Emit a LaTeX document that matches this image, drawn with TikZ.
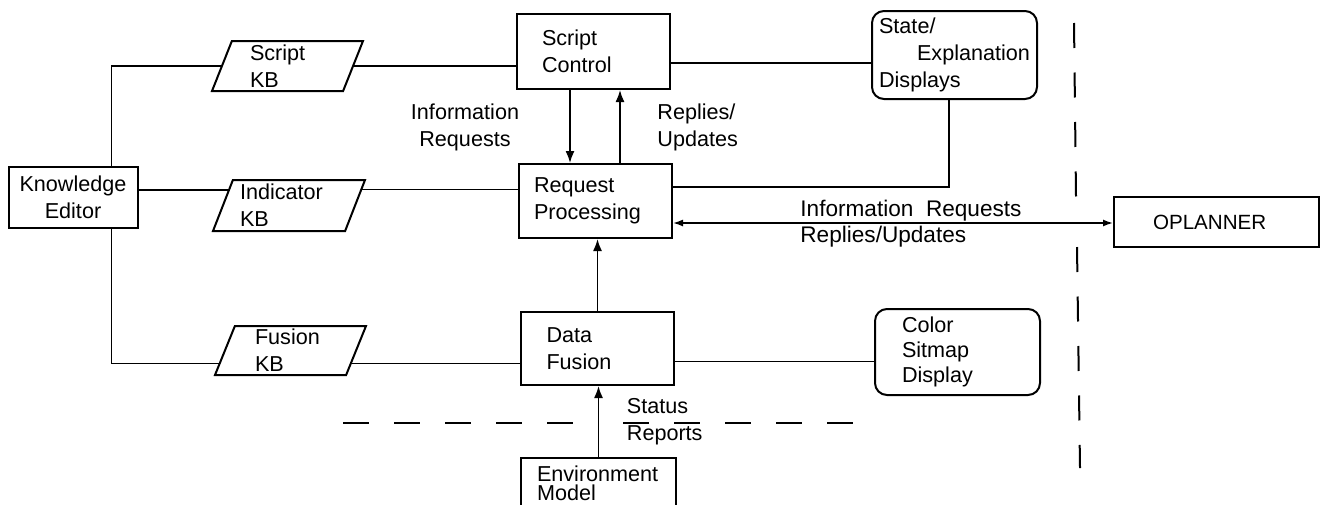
\documentclass[tikz,border=0pt]{standalone}
\usepackage{fontspec}
\setmainfont{Liberation Sans}
\usetikzlibrary{shapes.geometric,arrows.meta,calc}
\newcommand{\bfnt}{\fontsize{10.8}{13.5}\selectfont}
\newcommand{\sfnt}{\fontsize{11.3}{13}\selectfont}
\begin{document}
\begin{tikzpicture}[x=0.5pt,y=-0.5pt,
 blk/.style={draw, line width=1pt, inner sep=0pt, align=left, font=\bfnt},
 rblk/.style={blk, rounded corners=6pt},
 kbshape/.style={draw, line width=1pt, trapezium, trapezium left angle=65, trapezium right angle=115, trapezium stretches body, inner sep=0pt, align=left, font=\bfnt},
 lbl/.style={inner sep=0pt, font=\bfnt},
 conn/.style={line width=0.8pt},
 arr/.style={conn, -{Latex[length=6pt,width=4.5pt]}},
 darr/.style={conn, {Latex[length=5pt,width=3.5pt]}-{Latex[length=5pt,width=3.5pt]}},
 sep/.style={line width=1pt, dash pattern=on 13pt off 12.5pt}]
\useasboundingbox (0,0) rectangle (1320,504);
\clip (0,0) rectangle (1320,504);

% nodes
\node[blk, align=center, text width=60pt, minimum width=64.5pt, minimum height=30.5pt] (ke) at (73,197.5) {Knowledge\\Editor};
\node[kbshape, text width=37.5pt, minimum width=75.5pt, minimum height=25pt] (skb) at (287.5,66) {Script\\KB};
\node[kbshape, text width=49pt, minimum width=76pt, minimum height=25.5pt] (ikb) at (289,205.5) {Indicator\\KB};
\node[kbshape, text width=35.5pt, minimum width=75.5pt, minimum height=24.5pt] (fkb) at (290.5,350.5) {Fusion\\KB};
\node[blk, text width=51.5pt, minimum width=76.5pt, minimum height=37.5pt] (sc) at (593.5,51.5) {Script\\Control};
\node[blk, text width=61.5pt, minimum width=76.5pt, minimum height=37pt] (rp) at (595.5,201) {Request\\Processing};
\node[blk, text width=51pt, minimum width=76.5pt, minimum height=36.5pt] (df) at (597.5,348.5) {Data\\Fusion};
\node[blk, font=\fontsize{10.8}{9.5}\selectfont, text width=61.5pt, minimum width=77.5pt, minimum height=25pt] (env) at (598.5,483) {Environment\\Model};
\node[rblk, minimum width=82.5pt, minimum height=44pt] (st) at (954.5,55) {State/\\\hspace*{19pt}Explanation\\Displays};
\node[rblk, text width=55.5pt, font=\fontsize{10.8}{12.5}\selectfont, minimum width=82.5pt, minimum height=43pt] (col) at (957.5,352) {Color\\Sitmap\\Display};
\node[blk, font=\fontsize{10.3}{12}\selectfont, text width=63.5pt, minimum width=102.5pt, minimum height=25pt] (op) at (1216.5,222) {OPLANNER};

% labels
\node[lbl, align=center] (l1) at (465,127.5) {Information\\Requests};
\node[lbl, align=left, anchor=west] (l2) at (657,127.5) {Replies/\\Updates};
\node[lbl, font=\sfnt, anchor=west] (l3) at (800,211) {Information\ \ Requests};
\node[lbl, font=\sfnt, anchor=west] (l4) at (800,237) {Replies/Updates};
\node[lbl, align=left, anchor=west] (l5) at (626.5,422) {Status\\Reports};

% helper coordinates on borders
\coordinate (ikbL) at ($(ikb.bottom left corner)!0.79!(ikb.top left corner)$);
\coordinate (ikbR) at ($(ikb.bottom right corner)!0.8!(ikb.top right corner)$);
\coordinate (fkbL) at ($(fkb.bottom left corner)!0.245!(fkb.top left corner)$);
\coordinate (fkbR) at ($(fkb.bottom right corner)!0.245!(fkb.top right corner)$);
\coordinate (a1) at ([xshift=-11.75pt]sc.south);
\coordinate (a2) at ([xshift=12.25pt]rp.north);
\coordinate (a3) at ([yshift=-11pt]rp.east);
\coordinate (a4) at ([yshift=7pt]rp.east);
\coordinate (a5) at ([yshift=-5.75pt]sc.east);
\coordinate (a6) at ([yshift=-6.5pt]df.east);

% connectors
\draw[conn] ([xshift=19.25pt]ke.north) |- (skb.west);
\draw[conn] ([xshift=19.25pt]ke.south) |- (fkbL);
\draw[conn] (ikbL -| ke.east) -- (ikbL);
\draw[conn] (skb.east) -- (skb.east -| sc.west);
\draw[conn] (ikbR) -- (ikbR -| rp.west);
\draw[conn] (fkbR) -- (fkbR -| df.west);
\draw[conn] (a5) -- (a5 -| st.west);
\draw[conn] (a4) -| ([xshift=-2.75pt]st.south);
\draw[conn] (a6) -- (a6 -| col.west);
\draw[arr] (a1) -- (a1 |- rp.north);
\draw[arr] (a2) -- (a2 |- sc.south);
\draw[arr] (df.north) -- (df.north |- rp.south);
\draw[arr] (env.north) -- (env.north |- df.south);
\draw[darr] (a3) -- (a3 -| op.west);

% dashed separators
\draw[sep] (343,423) -- (574,423);
\draw[sep] (623,423) -- (853,423);
\draw[sep, dash pattern=on 12.5pt off 12.25pt] (1074,23) -- (1076,197);
\draw[sep, dash pattern=on 12.5pt off 12.25pt] (1077,247) -- (1080,468);
\end{tikzpicture}
\end{document}
